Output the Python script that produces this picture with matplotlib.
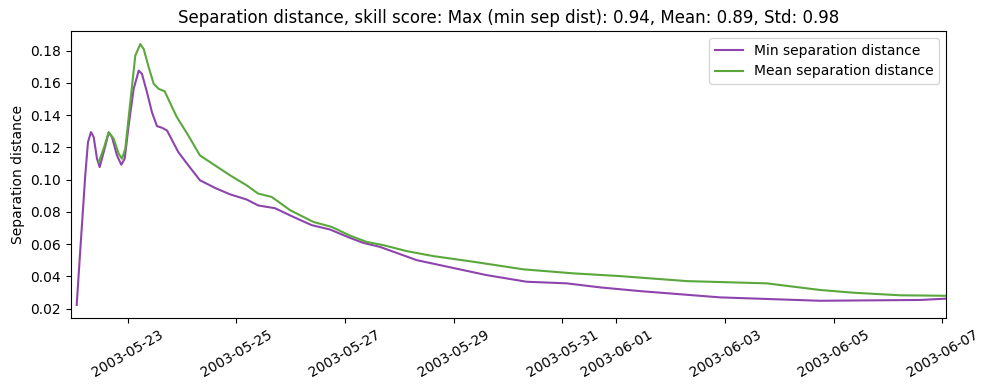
import matplotlib
matplotlib.use("Agg")
import matplotlib.pyplot as plt
import matplotlib.dates as mdates
import pandas as pd

base_date = "2003-05-23"

# days since 2003-05-23 00:00 and values, Min separation distance
min_days = [-0.939, -0.865, -0.781, -0.731, -0.676, -0.626, -0.565, -0.516, -0.442,
            -0.350, -0.289, -0.197, -0.118, -0.055, 0.018, 0.110, 0.203, 0.263,
            0.355, 0.447, 0.539, 0.632, 0.724, 0.803, 0.932, 1.116, 1.331, 1.515,
            1.60, 1.884, 2.19, 2.405, 2.712, 3.05, 3.388, 3.725, 4.093, 4.338,
            4.646, 5.321, 5.75, 6.61, 7.346, 8.083, 8.697, 9.433, 10.906, 12.747,
            14.59, 15.06]
min_sep = [0.0223, 0.0604, 0.1027, 0.1233, 0.1295, 0.1264, 0.1130, 0.1078, 0.1171,
           0.1291, 0.1264, 0.1150, 0.1093, 0.1130, 0.1336, 0.1563, 0.1676, 0.1656,
           0.1542, 0.1418, 0.1332, 0.1322, 0.1305, 0.1254, 0.1171, 0.1089, 0.0996, 0.0965,
           0.0950, 0.0909, 0.0877, 0.0840, 0.0823, 0.0769, 0.0718, 0.0691, 0.0639, 0.0608,
           0.0583, 0.0501, 0.0470, 0.0408, 0.0367, 0.0357, 0.0332, 0.0309, 0.0270, 0.0249,
           0.0254, 0.0262]

# Mean separation distance
mean_days = [-0.534, -0.442, -0.350, -0.258, -0.166, -0.105, -0.044, 0.048, 0.140,
             0.232, 0.295, 0.387, 0.479, 0.571, 0.681, 0.803, 0.902, 1.116, 1.331,
             1.70, 1.884, 2.19, 2.40, 2.651, 2.99, 3.417, 3.756, 4.093, 4.40, 4.706,
             5.137, 5.627, 6.364, 7.284, 8.205, 9.065, 10.293, 11.766, 12.747, 13.36,
             14.22, 15.06]
mean_sep = [0.1109, 0.1192, 0.1295, 0.1254, 0.1161, 0.1130, 0.1192, 0.1480, 0.1769,
            0.1841, 0.1810, 0.1697, 0.1594, 0.1563, 0.1548, 0.1460, 0.1390, 0.1274, 0.1150,
            0.1068, 0.1027, 0.0965, 0.0914, 0.0893, 0.0811, 0.0738, 0.0707, 0.0653, 0.0614,
            0.0594, 0.0557, 0.0526, 0.0491, 0.0444, 0.0419, 0.0402, 0.0371, 0.0357, 0.0316,
            0.0299, 0.0283, 0.0280]

x_range_days = [-1.0495, 15.0626]

t0 = pd.Timestamp(base_date)
min_t = [t0 + pd.Timedelta(days=d) for d in min_days]
mean_t = [t0 + pd.Timedelta(days=d) for d in mean_days]

fig = plt.figure(figsize=(9.9, 3.9), dpi=100)
ax = fig.add_axes([0.0714, 0.1846, 0.8839, 0.7359])
ax.plot(min_t, min_sep, color="#8e44ad", lw=1.5, label="Min separation distance",
        solid_joinstyle="round")
ax.plot(mean_t, mean_sep, color="#5aa83c", lw=1.5, label="Mean separation distance",
        solid_joinstyle="round")
ax.set_xlim(t0 + pd.Timedelta(days=x_range_days[0]), t0 + pd.Timedelta(days=x_range_days[1]))
ax.xaxis.set_major_locator(mdates.DayLocator(bymonthday=range(1, 32, 2)))
ax.xaxis.set_major_formatter(mdates.DateFormatter("%Y-%m-%d"))
plt.setp(ax.get_xticklabels(), rotation=30)
ax.set_ylabel("Separation distance")
ax.set_title("Separation distance, skill score: Max (min sep dist): 0.94, Mean: 0.89, Std: 0.98")
ax.legend(loc="upper right")
fig.savefig("out.png", dpi=100)
